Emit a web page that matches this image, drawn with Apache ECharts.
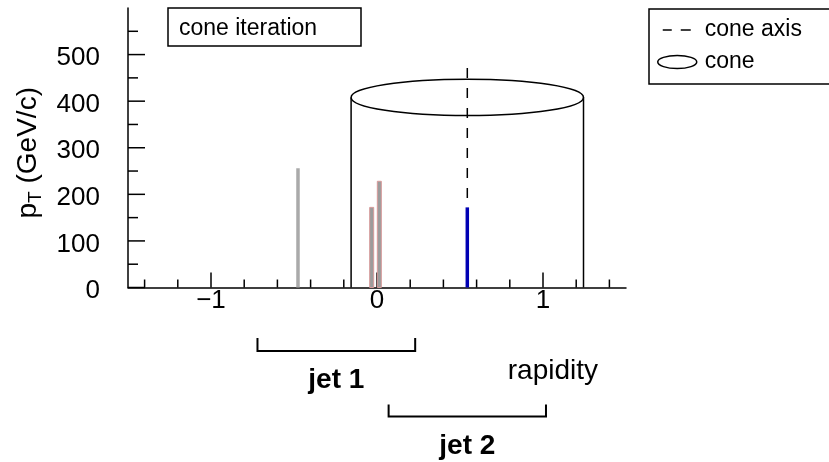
<!DOCTYPE html>
<html><head><meta charset="utf-8">
<script src="https://cdn.jsdelivr.net/npm/echarts@6/dist/echarts.min.js"></script>
<style>html,body{margin:0;padding:0;background:#fff}#c{width:829px;height:462px}</style>
</head><body><div id="c"></div>
<script>
// ---------- data ----------
const particleRapidity = [-0.476];
const particlePt = [256];
const clusterRapidity = [-0.032, 0.014];
const clusterPt = [172, 228];
const seedRapidity = [0.544];
const seedPt = [172];
const coneAxisRapidity = 0.544;
const coneAxisTop = 471;
const coneRadius = 0.7;
const coneHeight = 408;
const coneEllipseHalfHeight = 39;
const jetNames = ['jet 1', 'jet 2'];
const jetMin = [-0.72, 0.07];
const jetMax = [0.23, 1.018];
const xMajorTicks = [-1, 0, 1];
const xMinorTicks = [-1.4, -1.2, -0.8, -0.6, -0.4, -0.2, 0.2, 0.4, 0.6, 0.8, 1.2, 1.4];
const yMajorTicks = [0, 100, 200, 300, 400, 500];
const yMinorTicks = [50, 150, 250, 350, 450, 550];

// ---------- layout / style ----------
const FONT = 'Liberation Sans, Arial, Helvetica, sans-serif';
const jetRowLine = [63.5, 129];
const jetRowTick = [13, 12];
const jetRowLabel = [93, 158.5];

const chart = echarts.init(document.getElementById('c'), null, {renderer: 'canvas'});

function barSeries(name, xs, ys, style, width) {
  return {
    type: 'custom', name, clip: false, z: 5,
    data: xs.map((x, i) => [x, ys[i]]),
    renderItem(params, api) {
      const p0 = api.coord([api.value(0), 0]);
      const p1 = api.coord([api.value(0), api.value(1)]);
      return {type: 'rect', shape: {x: p0[0] - width / 2, y: p1[1], width: width, height: p0[1] - p1[1]}, style};
    }
  };
}

const option = {
  animation: false,
  backgroundColor: '#fff',
  textStyle: {fontFamily: FONT},
  title: {
    text: 'cone iteration', left: 168, top: 8,
    padding: [9, 44, 5, 11],
    borderColor: '#000', borderWidth: 1.5, backgroundColor: '#fff',
    textStyle: {fontSize: 23, fontWeight: 'normal', color: '#000', fontFamily: FONT, lineHeight: 24}
  },
  legend: {
    orient: 'vertical', left: 649, top: 9,
    padding: [8, 50, 9, 8],
    itemWidth: 42, itemHeight: 14, itemGap: 6,
    borderColor: '#000', borderWidth: 1.5, backgroundColor: '#fff',
    selectedMode: false,
    textStyle: {fontSize: 23, lineHeight: 26, color: '#000', fontFamily: FONT},
    data: [
      {name: 'cone axis', icon: 'path://M0,0 M5,0H14V1.5H5Z M23,0H33V1.5H23Z M42,1.5',
       itemStyle: {color: '#000', borderWidth: 0}},
      {name: 'cone', icon: 'path://M0,7A19.5,6.5 0 1,0 39,7A19.5,6.5 0 1,0 0,7Z M42,7',
       itemStyle: {color: '#fff', borderColor: '#000', borderWidth: 1.5}}
    ]
  },
  grid: {left: 128, right: 203, top: 8, bottom: 174.5, containLabel: false, outerBoundsMode: 'none'},
  xAxis: {
    type: 'value', min: -1.5, max: 1.5, interval: 0.5,
    axisLine: {show: true, onZero: false, lineStyle: {color: '#000', width: 1.5}},
    axisTick: {show: false}, splitLine: {show: false},
    axisLabel: {
      margin: 0, fontSize: 26, color: '#000', fontFamily: FONT,
      showMinLabel: false, showMaxLabel: false,
      formatter: v => Math.abs(v - Math.round(v)) < 1e-9 ? (v < 0 ? '\u2212' + Math.round(-v) : String(Math.round(v))) : ''
    },
    name: 'rapidity', nameLocation: 'end', nameGap: 0,
    nameTextStyle: {align: 'right', verticalAlign: 'top', padding: [70, 28, 0, 0], fontSize: 28, color: '#000', fontFamily: FONT}
  },
  yAxis: {
    type: 'value', min: 0, max: 600, interval: 100,
    axisLine: {show: true, onZero: false, lineStyle: {color: '#000', width: 1.5}},
    axisTick: {show: false}, splitLine: {show: false},
    axisLabel: {margin: 28, fontSize: 26, color: '#000', fontFamily: FONT, verticalAlign: 'top', lineHeight: 7,
      formatter: v => v === 600 ? '' : String(v)},
    name: '{p|p}{t|T}{g| (GeV/c)}', nameLocation: 'middle', nameRotate: 90, nameGap: 82,
    nameTextStyle: {
      color: '#000', fontFamily: FONT, fontSize: 28, padding: [0, 10, 0, 0],
      rich: {
        p: {fontSize: 28, lineHeight: 34, fontFamily: FONT, color: '#000'},
        t: {fontSize: 19, lineHeight: 19, verticalAlign: 'bottom', fontFamily: FONT, color: '#000'},
        g: {fontSize: 28, lineHeight: 34, fontFamily: FONT, color: '#000'}
      }
    }
  },
  series: [
    // axis ticks (drawn inside, ROOT style)
    {
      type: 'custom', name: 'ticks', clip: false, z: 3, silent: true,
      data: [[0, 0]],
      renderItem(params, api) {
        const ch = [];
        const ln = (a, b) => ch.push({type: 'line', shape: {x1: a[0], y1: a[1], x2: b[0], y2: b[1]}, style: {stroke: '#000', lineWidth: 1.5}});
        xMajorTicks.forEach(v => { const p = api.coord([v, 0]); ln(p, [p[0], p[1] - 15]); });
        xMinorTicks.forEach(v => { const p = api.coord([v, 0]); ln(p, [p[0], p[1] - 8]); });
        yMajorTicks.forEach(v => { const p = api.coord([-1.5, v]); ln(p, [p[0] + 17, p[1]]); });
        yMinorTicks.forEach(v => { const p = api.coord([-1.5, v]); ln(p, [p[0] + 10, p[1]]); });
        return {type: 'group', children: ch};
      }
    },
    barSeries('particles', particleRapidity, particlePt, {fill: '#aaaaaa', stroke: null}, 3.5),
    barSeries('cluster', clusterRapidity, clusterPt, {fill: '#9c9c9c', stroke: '#d89a9a', lineWidth: 1}, 4),
    // cone (cylinder + ellipse)
    {
      type: 'custom', name: 'cone', clip: false, z: 4,
      data: [[coneAxisRapidity, coneHeight]],
      renderItem(params, api) {
        const c = api.value(0), h = api.value(1), r = coneRadius;
        const L0 = api.coord([c - r, 0]), L1 = api.coord([c - r, h]);
        const R0 = api.coord([c + r, 0]), R1 = api.coord([c + r, h]);
        const C = api.coord([c, h]);
        const ry = Math.abs(api.coord([c, h + coneEllipseHalfHeight])[1] - C[1]);
        const st = {stroke: '#000', lineWidth: 1.5, fill: 'none'};
        return {type: 'group', children: [
          {type: 'line', shape: {x1: L0[0], y1: L0[1], x2: L1[0], y2: L1[1]}, style: st},
          {type: 'line', shape: {x1: R0[0], y1: R0[1], x2: R1[0], y2: R1[1]}, style: st},
          {type: 'ellipse', shape: {cx: C[0], cy: C[1], rx: (R1[0] - L1[0]) / 2, ry: ry}, style: st}
        ]};
      }
    },
    // cone axis (dashed)
    {
      type: 'custom', name: 'cone axis', clip: false, z: 4,
      data: [[coneAxisRapidity, coneAxisTop]],
      renderItem(params, api) {
        const top = api.coord([api.value(0), api.value(1)]);
        const bot = api.coord([api.value(0), 0]);
        return {type: 'line', shape: {x1: top[0], y1: top[1], x2: bot[0], y2: bot[1]},
          style: {stroke: '#000', lineWidth: 1.5, lineDash: [10, 10]}};
      }
    },
    barSeries('seed', seedRapidity, seedPt, {fill: '#0000b4', stroke: null}, 3.5),
    // jets (brackets below the axis)
    {
      type: 'custom', name: 'jets', clip: false, z: 4,
      data: jetNames.map((n, i) => [jetMin[i], jetMax[i], i]),
      renderItem(params, api) {
        const i = api.value(2);
        const a = api.coord([api.value(0), 0]), b = api.coord([api.value(1), 0]);
        const y = a[1] + jetRowLine[i], yt = y - jetRowTick[i];
        const st = {stroke: '#000', lineWidth: 2, fill: 'none'};
        return {type: 'group', children: [
          {type: 'polyline', shape: {points: [[a[0], yt], [a[0], y], [b[0], y], [b[0], yt]]}, style: st},
          {type: 'text', style: {text: jetNames[i], x: (a[0] + b[0]) / 2, y: a[1] + jetRowLabel[i],
            align: 'center', verticalAlign: 'middle', font: 'bold 28px ' + FONT, fill: '#000'}}
        ]};
      }
    }
  ]
};
chart.setOption(option);
</script>
</body></html>
